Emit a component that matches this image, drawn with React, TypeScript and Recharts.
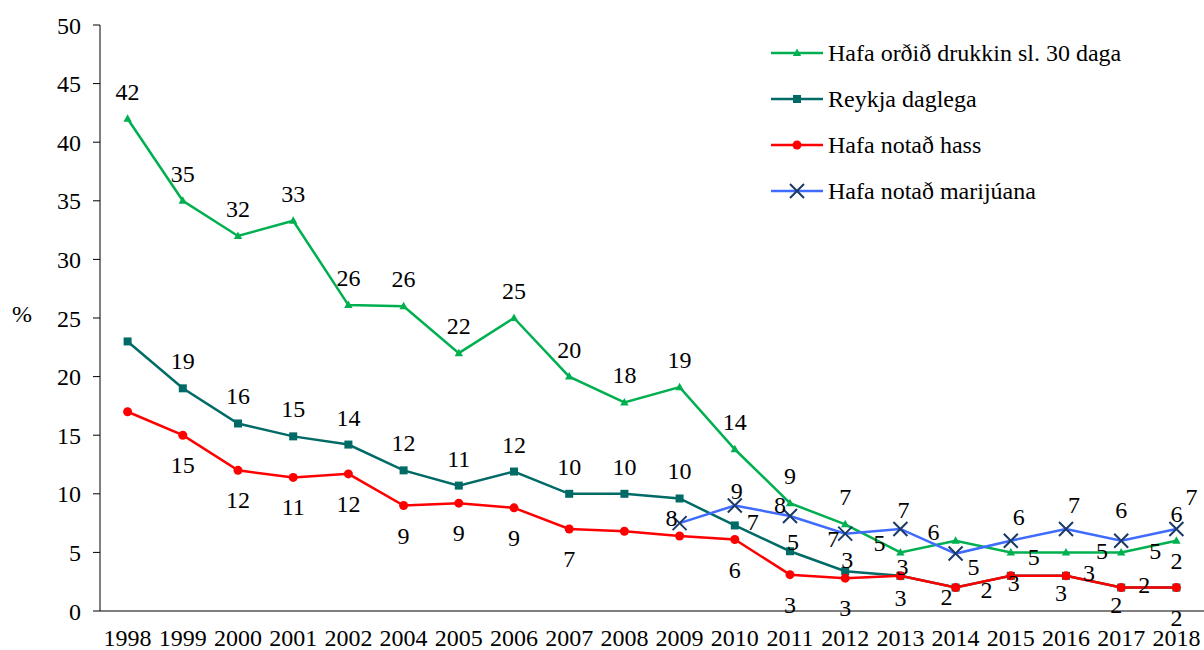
import React from 'react';
import { LineChart, Line, XAxis, YAxis, Legend } from 'recharts';

const years = ['1998','1999','2000','2001','2002','2004','2005','2006','2007','2008','2009','2010','2011','2012','2013','2014','2015','2016','2017','2018'];
const drunk = [42, 35, 32, 33.3, 26.1, 26, 22, 25, 20, 17.8, 19.1, 13.8, 9.2, 7.4, 5, 6, 5, 5, 5, 6];
const smoke = [23, 19, 16, 14.9, 14.2, 12, 10.7, 11.9, 10, 10, 9.6, 7.3, 5.1, 3.4, 3, 2, 3, 3, 2, 2];
const hashish = [17, 15, 12, 11.4, 11.7, 9, 9.2, 8.8, 7, 6.8, 6.4, 6.1, 3.1, 2.8, 3, 2, 3, 3, 2, 2];
const marijuana: (number | null)[] = [null, null, null, null, null, null, null, null, null, null, 7.5, 9, 8.1, 6.6, 7, 4.9, 6, 7, 6, 7];
const yTicks = [0, 5, 10, 15, 20, 25, 30, 35, 40, 45, 50];

const seriesNames = {
  drunk: 'Hafa orðið drukkin sl. 30 daga',
  smoke: 'Reykja daglega',
  hashish: 'Hafa notað hass',
  marijuana: 'Hafa notað marijúana',
};

const data = years.map((y, i) => ({
  idx: i,
  year: y,
  drunk: drunk[i],
  smoke: smoke[i],
  hashish: hashish[i],
  marijuana: marijuana[i],
}));

const FONT = '"Liberation Serif", "Times New Roman", serif';
const FS = 24;
const GREEN = '#00B050';
const TEAL = '#006B66';
const RED = '#FF0000';
const BLUE = '#3F6BFF';
const NAVY = '#1B3A66';

// label placement (pixel offsets relative to each point)
type Off = Record<number, [number, number]>;
const drunkOff: Off = { 14: [-21, -9], 15: [-22, -9], 16: [23, 5], 17: [36, -1], 18: [34, -1] };
const smokeOff: Off = { 11: [18, -3], 12: [3, -9], 13: [2, -11], 14: [2, -9], 15: [31, 2], 16: [3, 7], 17: [23, -3], 18: [23, -3] };
const hashOff: Off = { 14: [0, 22], 15: [-9, 9], 17: [-5, 17], 18: [-5, 17] };
const mariOff: Off = { 10: [-8, -5], 11: [2, -15], 12: [-10, -11], 13: [-12, 5], 14: [3, -19], 15: [18, 13], 16: [8, -24], 17: [8, -24], 18: [0, -31], 19: [15, -32] };

const makeLabel = (offs: Off, def: [number, number], hidden: number[]) => (props: any) => {
  const { value, index } = props;
  const x = props.x ?? props.viewBox?.x;
  const y = props.y ?? props.viewBox?.y;
  if (value == null || x == null || y == null || hidden.includes(index)) return null;
  const [dx, dy] = offs[index] ?? def;
  return (
    <text key={`l${index}`} x={x + dx} y={y + dy} textAnchor="middle" dominantBaseline="central" fontSize={FS} fontFamily={FONT} fill="#000">
      {Math.round(value)}
    </text>
  );
};

const Tri = ({ cx, cy, color }: any) => (
  <path d={`M${cx},${cy - 4.5} L${cx + 4.2},${cy + 3} L${cx - 4.2},${cy + 3} Z`} fill={color} />
);
const Sq = ({ cx, cy, color }: any) => <rect x={cx - 4} y={cy - 4} width={8} height={8} fill={color} />;
const Circ = ({ cx, cy, color }: any) => <circle cx={cx} cy={cy} r={4.5} fill={color} />;
const Cross = ({ cx, cy }: any) => (
  <path d={`M${cx - 7},${cy - 7} L${cx + 7},${cy + 7} M${cx - 7},${cy + 7} L${cx + 7},${cy - 7}`} stroke={NAVY} strokeWidth={2} />
);

const makeDot = (Shape: any, color: string) => (props: any) => {
  const { cx, cy, index, value } = props;
  if (cx == null || cy == null || value == null) return <g key={`d${index}`} />;
  return <g key={`d${index}`}><Shape cx={cx} cy={cy} color={color} /></g>;
};

const legendItems = [
  { name: seriesNames.drunk, color: GREEN, Shape: Tri, mcolor: GREEN },
  { name: seriesNames.smoke, color: TEAL, Shape: Sq, mcolor: TEAL },
  { name: seriesNames.hashish, color: RED, Shape: Circ, mcolor: RED },
  { name: seriesNames.marijuana, color: BLUE, Shape: Cross, mcolor: NAVY },
];

const renderLegend = () => (
  <div style={{ fontFamily: FONT, fontSize: FS, color: '#000' }}>
    {legendItems.map((it) => (
      <div key={it.name} style={{ display: 'flex', alignItems: 'center', height: 46, whiteSpace: 'nowrap' }}>
        <svg width={54} height={20} style={{ display: 'block' }}>
          <line x1={0} y1={10} x2={52} y2={10} stroke={it.color} strokeWidth={2.5} />
          <it.Shape cx={26} cy={10} color={it.mcolor} />
        </svg>
        <span style={{ marginLeft: 3 }}>{it.name}</span>
      </div>
    ))}
  </div>
);

export default function App() {
  return (
    <div style={{ position: 'absolute', left: 0, top: 0, width: 1204, height: 650, background: '#fff' }}>
      <LineChart width={1204} height={650} data={data} margin={{ top: 25, right: 0, left: 0, bottom: 0 }}>
        <XAxis
          xAxisId="tk"
          type="number"
          dataKey="idx"
          domain={[-0.5, 19.5]}
          ticks={years.map((_, i) => i - 0.5).concat([19.5])}
          tickFormatter={() => ''}
          tickSize={7}
          axisLine={false}
          tickLine={{ stroke: '#000' }}
          height={0}
          interval={0}
        />
        <XAxis
          xAxisId="lab"
          type="number"
          dataKey="idx"
          domain={[-0.5, 19.5]}
          ticks={years.map((_, i) => i)}
          tickFormatter={(v: number) => years[v] ?? ''}
          tickLine={false}
          tickSize={0}
          tickMargin={18}
          axisLine={{ stroke: '#000' }}
          tick={{ fill: '#000', fontSize: FS, fontFamily: FONT }}
          height={39}
          interval={0}
        />
        <YAxis
          type="number"
          domain={[0, 50]}
          ticks={yTicks}
          width={100}
          tickSize={7}
          tickMargin={12}
          axisLine={{ stroke: '#000' }}
          tickLine={{ stroke: '#000' }}
          tick={{ fill: '#000', fontSize: FS, fontFamily: FONT }}
          interval={0}
          label={{ value: '%', position: 'insideLeft', offset: 12, dy: -5, fill: '#000', fontSize: FS, fontFamily: FONT }}
        />
        <Legend
          layout="vertical"
          align="center"
          verticalAlign="middle"
          content={renderLegend}
          wrapperStyle={{ left: 771, top: 30, width: 430, height: 190 }}
        />
        <Line xAxisId="lab" dataKey="smoke" name={seriesNames.smoke} stroke={TEAL} strokeWidth={2.5} isAnimationActive={false}
          dot={makeDot(Sq, TEAL)} activeDot={false} label={makeLabel(smokeOff, [0, -27], [0])} />
        <Line xAxisId="lab" dataKey="drunk" name={seriesNames.drunk} stroke={GREEN} strokeWidth={2.5} isAnimationActive={false}
          dot={makeDot(Tri, GREEN)} activeDot={false} label={makeLabel(drunkOff, [0, -27], [])} />
        <Line xAxisId="lab" dataKey="hashish" name={seriesNames.hashish} stroke={RED} strokeWidth={2.5} isAnimationActive={false}
          dot={makeDot(Circ, RED)} activeDot={false} label={makeLabel(hashOff, [0, 30], [0, 9, 10, 16])} />
        <Line xAxisId="lab" dataKey="marijuana" name={seriesNames.marijuana} stroke={BLUE} strokeWidth={2.5} isAnimationActive={false}
          dot={makeDot(Cross, NAVY)} activeDot={false} label={makeLabel(mariOff, [0, -20], [])} connectNulls={false} />
      </LineChart>
    </div>
  );
}
